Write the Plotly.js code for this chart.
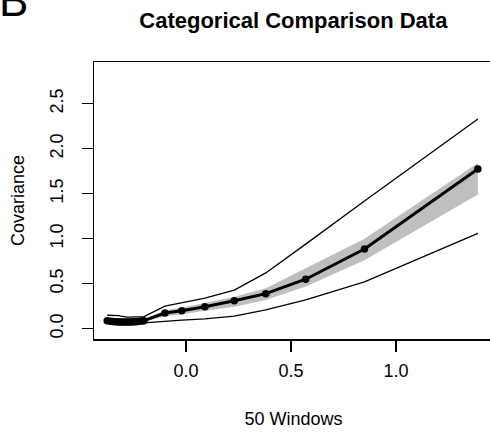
<!DOCTYPE html>
<html>
<head>
<meta charset="utf-8">
<script src="https://cdn.plot.ly/plotly-3.0.1.min.js"></script>
<style>
html,body{margin:0;padding:0;overflow:hidden;background:#fff;}
#chart{width:500px;height:432px;}
</style>
</head>
<body>
<div id="chart"></div>
<script>
// Window positions (x) and covariance estimates
const windowX = [-0.375,-0.36,-0.35,-0.34,-0.33,-0.32,-0.31,-0.30,-0.29,-0.28,-0.27,-0.26,-0.25,-0.24,-0.23,-0.22,-0.21,-0.20,
                 -0.10,-0.02,0.09,0.23,0.38,0.57,0.85,1.39];
const covMean  = [0.088,0.082,0.080,0.078,0.077,0.076,0.075,0.075,0.075,0.075,0.075,0.076,0.077,0.078,0.080,0.082,0.085,0.090,
                  0.175,0.200,0.245,0.310,0.390,0.550,0.886,1.775];
// Shaded band around the mean
const bandLow  = [0.070,0.066,0.064,0.063,0.062,0.062,0.061,0.061,0.061,0.061,0.061,0.062,0.063,0.064,0.065,0.067,0.070,0.075,
                  0.140,0.160,0.200,0.245,0.320,0.470,0.760,1.490];
const bandHigh = [0.105,0.100,0.098,0.096,0.095,0.094,0.093,0.093,0.093,0.093,0.093,0.094,0.095,0.096,0.098,0.100,0.103,0.108,
                  0.205,0.235,0.285,0.355,0.450,0.670,1.000,1.840];
// Outer envelope lines
const outerHigh = [0.150,0.150,0.150,0.150,0.148,0.145,0.140,0.135,0.132,0.130,0.130,0.130,0.130,0.130,0.130,0.130,0.132,0.135,
                   0.250,0.285,0.340,0.430,0.620,0.940,1.420,2.330];
const outerLow  = [0.060,0.058,0.057,0.056,0.056,0.056,0.056,0.056,0.056,0.056,0.056,0.056,0.057,0.058,0.060,0.062,0.064,0.066,
                   0.078,0.095,0.110,0.140,0.210,0.320,0.520,1.060];

const xTicks = [0, 0.5, 1.0];
const xTickText = ["0.0","0.5","1.0"];
const yTicks = [0, 0.5, 1.0, 1.5, 2.0, 2.5];
const yTickText = ["0.0","0.5","1.0","1.5","2.0","2.5"];

const FONT = "Liberation Sans, Arial, sans-serif";

const traces = [
  {x: windowX, y: bandLow, type:'scatter', mode:'lines', line:{width:0, color:'rgba(0,0,0,0)'}, hoverinfo:'skip', showlegend:false},
  {x: windowX, y: bandHigh, type:'scatter', mode:'lines', line:{width:0, color:'rgba(0,0,0,0)'}, fill:'tonexty', fillcolor:'#bfbfbf', hoverinfo:'skip', showlegend:false},
  {x: windowX, y: outerHigh, type:'scatter', mode:'lines', line:{width:1.3, color:'#000'}, showlegend:false},
  {x: windowX, y: outerLow, type:'scatter', mode:'lines', line:{width:1.3, color:'#000'}, showlegend:false},
  {x: windowX, y: covMean, type:'scatter', mode:'lines+markers', line:{width:3, color:'#000'}, marker:{size:7.5, color:'#000'}, showlegend:false}
];

const axisCommon = {
  showgrid:false, zeroline:false, showline:true, mirror:true, linecolor:'#000', linewidth:1.5,
  ticks:'outside', ticklen:11, tickwidth:1.5, tickcolor:'#000',
  tickfont:{family:FONT, size:18, color:'#000'}
};

const layout = {
  width:500, height:432,
  margin:{l:94, r:7, t:62, b:93},
  paper_bgcolor:'#fff', plot_bgcolor:'#fff',
  title:{text:'<b>Categorical Comparison Data</b>', font:{family:FONT, size:22, color:'#000'}, x:0.5867, xanchor:'center', y:0.953, yanchor:'middle'},
  xaxis: Object.assign({}, axisCommon, {
    range:[-0.438, 1.462], tickvals:xTicks, ticktext:xTickText, ticklabelstandoff:4,
    title:{text:'50 Windows', font:{family:FONT, size:18, color:'#000'}, standoff:32}
  }),
  yaxis: Object.assign({}, axisCommon, {
    range:[-0.114, 2.963], tickvals:yTicks, ticktext:yTickText, tickangle:-90, ticklabelstandoff:11,
    title:{text:'Covariance', font:{family:FONT, size:18, color:'#000'}, standoff:18}
  }),
  annotations:[{
    text:'B', xref:'paper', yref:'paper', x:-0.242, y:1.126, xanchor:'left', yanchor:'bottom',
    showarrow:false, font:{family:FONT, size:44, color:'#000'}
  }]
};

Plotly.newPlot('chart', traces, layout, {displayModeBar:false, staticPlot:true});
</script>
</body>
</html>
